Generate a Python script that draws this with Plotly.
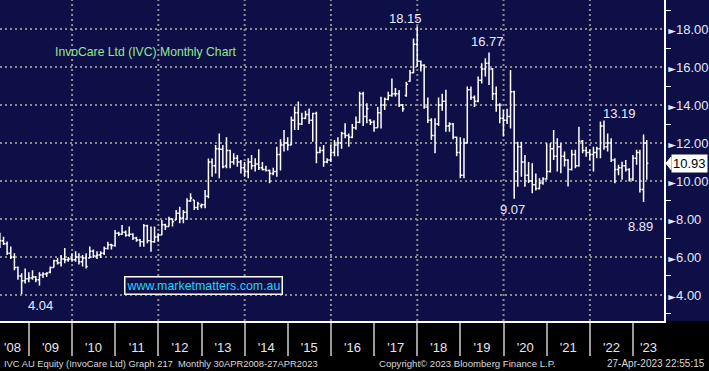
import pandas as pd
import plotly.graph_objects as go

# ---------------- data (monthly OHLC, Apr-2008 .. Apr-2023) ----------------
dates = list(pd.date_range('2008-04-30', periods=180, freq=pd.offsets.MonthEnd())) + [pd.Timestamp('2023-04-27')]

opens = [
    7.00, 6.85, 6.70, 6.20, 6.00, 5.45, 5.00, 4.75, 4.85,
    4.90, 4.95, 4.80, 5.05, 5.10, 5.20, 5.45, 5.80, 5.70, 5.90, 5.85, 5.90,
    5.85, 6.00, 5.75, 5.95, 5.95, 6.30, 6.05, 6.10, 6.20, 6.45, 6.65, 6.60,
    7.25, 7.20, 7.30, 7.15, 7.20, 7.00, 6.90, 6.80, 7.65, 6.85, 6.80, 7.05,
    7.16, 7.70, 7.60, 8.00, 7.95, 8.30, 8.05, 8.35, 8.95, 9.00, 8.60, 8.70,
    8.75, 9.20, 11.00, 10.80, 11.70, 11.67, 10.80, 11.60, 11.00, 11.20, 11.00, 10.70,
    10.50, 11.00, 10.80, 10.90, 10.70, 10.60, 10.55, 10.40, 10.50, 11.40, 11.90, 12.00,
    11.90, 13.20, 13.60, 13.00, 13.30, 13.50, 13.20, 13.55, 11.50, 11.60, 11.00, 11.10,
    11.50, 11.90, 12.00, 12.50, 12.40, 12.30, 12.80, 13.10, 14.60, 13.40, 13.20, 13.10,
    12.80, 13.60, 14.00, 14.30, 14.50, 14.60, 14.60, 14.00, 14.50, 15.25, 15.70, 17.20,
    16.30, 16.10, 13.90, 13.20, 12.40, 13.00, 14.00, 14.20, 12.90, 13.00, 12.30, 11.50,
    10.30, 12.00, 14.80, 14.40, 14.20, 15.30, 15.90, 16.20, 15.90, 14.60, 14.00, 13.30,
    13.20, 13.40, 14.70, 10.50, 11.80, 11.00, 10.30, 10.00, 9.80, 9.60, 9.90, 10.10,
    10.50, 11.70, 11.30, 11.80, 11.30, 11.10, 10.60, 11.40, 10.80, 12.10, 11.60, 11.50,
    11.40, 11.50, 11.70, 12.90, 11.80, 12.00, 11.10, 10.60, 10.70, 10.80, 10.60, 10.10,
    11.20, 11.50, 9.55, 12.00,
]
highs = [
    7.27, 7.07, 6.81, 6.55, 6.20, 5.50, 5.15, 5.40, 5.20,
    5.30, 5.00, 5.20, 5.20, 5.20, 5.50, 5.85, 5.95, 6.10, 6.47, 6.00, 6.20,
    6.30, 6.20, 6.10, 6.20, 6.55, 6.40, 6.30, 6.30, 6.55, 6.80, 6.70, 7.42,
    7.33, 7.68, 7.40, 7.60, 7.25, 7.07, 6.95, 7.74, 7.70, 7.60, 7.60, 7.25,
    7.95, 7.75, 8.12, 8.03, 8.47, 8.65, 8.47, 9.09, 9.35, 9.00, 8.91, 8.82,
    9.53, 11.19, 11.19, 11.90, 12.50, 11.90, 12.30, 11.65, 11.46, 11.37, 11.11, 11.00,
    11.20, 11.37, 11.20, 11.67, 11.00, 10.80, 10.60, 10.70, 11.81, 12.20, 12.69, 12.30,
    13.39, 13.92, 14.18, 13.60, 13.70, 13.82, 13.60, 13.65, 11.80, 11.90, 11.20, 11.90,
    12.16, 12.30, 12.60, 13.04, 12.50, 13.00, 13.40, 14.70, 14.70, 14.10, 13.25, 13.20,
    13.90, 14.44, 14.40, 14.70, 15.40, 14.90, 14.79, 14.05, 15.23, 15.85, 17.50, 18.15,
    16.35, 16.15, 14.40, 13.30, 13.30, 14.40, 14.60, 14.80, 13.10, 13.05, 12.35, 12.30,
    12.25, 14.97, 14.97, 14.50, 15.50, 16.20, 16.46, 16.77, 15.95, 14.97, 14.10, 13.74,
    13.80, 15.85, 14.75, 12.07, 12.07, 11.37, 11.00, 10.93, 10.40, 10.14, 10.20, 11.99,
    11.99, 12.69, 12.25, 11.99, 11.55, 11.15, 11.64, 11.64, 12.86, 12.16, 11.81, 11.64,
    11.81, 11.81, 13.13, 13.19, 12.50, 12.25, 11.20, 10.85, 11.02, 11.11, 10.67, 11.37,
    11.64, 11.64, 12.45, 12.16,
]
lows = [
    6.47, 6.63, 6.10, 5.90, 5.30, 4.80, 4.04, 4.60, 4.67,
    4.80, 4.67, 4.50, 4.90, 4.95, 5.15, 5.45, 5.60, 5.50, 5.67, 5.75, 5.75,
    5.75, 5.60, 5.50, 5.40, 5.93, 5.95, 5.90, 5.95, 6.10, 6.40, 6.40, 6.54,
    7.10, 7.16, 7.07, 7.07, 6.90, 6.80, 6.54, 6.54, 6.72, 6.28, 6.75, 6.80,
    7.16, 7.42, 7.60, 7.60, 7.95, 7.77, 7.77, 7.95, 8.91, 8.47, 8.47, 8.56,
    8.56, 9.09, 10.23, 10.40, 10.15, 10.67, 10.67, 10.67, 10.85, 10.75, 10.40, 10.23,
    10.15, 10.60, 10.50, 10.58, 10.55, 10.50, 9.88, 10.30, 10.23, 10.55, 11.55, 11.60,
    11.90, 12.69, 12.69, 12.95, 13.25, 13.00, 12.07, 10.93, 11.46, 10.75, 10.93, 11.00,
    11.30, 11.30, 11.70, 12.25, 11.80, 12.25, 12.70, 13.04, 12.90, 13.04, 12.95, 12.60,
    12.80, 12.77, 13.74, 14.25, 14.44, 14.45, 13.90, 13.65, 14.44, 15.23, 15.67, 16.00,
    15.76, 13.80, 13.05, 12.16, 11.46, 12.90, 13.70, 12.60, 12.60, 12.20, 11.30, 10.15,
    10.14, 11.98, 14.27, 13.90, 14.15, 15.14, 15.50, 15.06, 14.27, 13.65, 13.04, 12.34,
    13.00, 12.77, 9.07, 9.70, 10.23, 9.70, 9.90, 9.35, 9.50, 9.55, 9.80, 10.06,
    10.45, 11.11, 10.50, 10.41, 10.76, 9.71, 10.55, 10.67, 10.75, 11.46, 11.28, 11.10,
    10.50, 11.20, 11.20, 11.64, 11.55, 11.00, 9.88, 10.30, 10.06, 10.50, 9.97, 10.00,
    10.85, 9.40, 8.89, 10.06,
]
closes = [
    6.85, 6.70, 6.20, 6.00, 5.45, 5.00, 4.75, 4.85, 4.90,
    4.95, 4.80, 5.05, 5.10, 5.15, 5.45, 5.80, 5.70, 5.90, 5.85, 5.90, 5.85,
    6.00, 5.75, 5.95, 5.50, 6.30, 6.05, 6.10, 6.20, 6.45, 6.65, 6.60, 7.25,
    7.20, 7.30, 7.15, 7.20, 7.00, 6.90, 6.80, 7.65, 6.85, 6.80, 7.05, 7.16,
    7.70, 7.60, 8.00, 7.85, 8.30, 8.05, 8.35, 8.95, 9.10, 8.60, 8.80, 8.75,
    9.20, 11.00, 10.80, 11.70, 11.67, 10.75, 11.60, 11.00, 11.20, 11.00, 10.70, 10.50,
    11.00, 10.80, 10.90, 10.70, 10.60, 10.55, 10.40, 10.50, 11.40, 11.90, 12.00, 11.90,
    13.20, 13.60, 13.00, 13.30, 13.50, 13.20, 13.55, 11.50, 11.60, 11.00, 11.10, 11.50,
    11.90, 12.00, 12.50, 12.40, 12.30, 12.80, 13.10, 14.60, 13.40, 13.80, 13.10, 12.80,
    13.60, 14.00, 14.30, 14.50, 14.60, 14.60, 14.00, 13.80, 15.10, 15.70, 17.20, 16.30,
    16.10, 13.90, 13.20, 12.40, 13.00, 14.00, 14.20, 12.90, 13.00, 12.30, 11.50, 10.30,
    12.00, 14.80, 14.40, 14.20, 15.30, 15.90, 16.20, 15.90, 14.60, 14.00, 13.30, 13.20,
    13.40, 14.70, 10.50, 11.80, 11.00, 10.30, 10.00, 9.80, 9.60, 9.90, 10.10, 10.50,
    11.70, 11.30, 11.80, 11.30, 11.10, 10.60, 11.40, 10.80, 12.10, 11.60, 11.50, 11.40,
    11.50, 11.70, 12.90, 11.80, 12.00, 11.10, 10.60, 10.70, 10.80, 10.60, 10.10, 11.20,
    11.50, 9.55, 12.00, 10.93,
]

y_ticks = [4, 6, 8, 10, 12, 14, 16, 18]
y_minor = [3, 5, 7, 9, 11, 13, 15, 17, 19]
year_labels = ["'08", "'09", "'10", "'11", "'12", "'13", "'14", "'15",
               "'16", "'17", "'18", "'19", "'20", "'21", "'22", "'23"]
year_label_dates = ['2008-08-15'] + [f'{y}-07-02' for y in range(2009, 2023)] + ['2023-05-12']
year_bounds = [f'{y}-01-01' for y in range(2009, 2024)]
grid_years = [f'{y}-01-01' for y in range(2010, 2023, 2)]

# extremes labelled on the chart: (text, date, value, anchor, xshift, yshift)
extremes = [
    ('4.04', '2008-10-31', 4.04, 'top', 19, -2),
    ('18.15', '2017-12-29', 18.15, 'bottom', -11, -2),
    ('16.77', '2019-08-30', 16.77, 'bottom', -1, 1),
    ('9.07', '2020-03-31', 9.07, 'top', -2, -1),
    ('13.19', '2022-04-29', 13.19, 'bottom', 16, -3),
    ('8.89', '2023-03-31', 8.89, 'top', -3, -15),
]

NAVY = '#0f0f48'
TXT = '#e6e6f2'
FONT = 'Liberation Sans, Arial, sans-serif'
W, H = 709, 371
ML, MR, MT, MB = 0, 45, 0, 50
PW, PH = W - ML - MR, H - MT - MB

fig = go.Figure()
fig.add_trace(go.Ohlc(
    x=dates, open=opens, high=highs, low=lows, close=closes,
    increasing=dict(line=dict(color='white', width=1.5)),
    decreasing=dict(line=dict(color='white', width=1.5)),
    tickwidth=0.5, showlegend=False, hoverinfo='skip'))

shapes = [dict(type='rect', xref='paper', yref='paper', x0=0, x1=1 + MR / PW, y0=0, y1=1,
               fillcolor=NAVY, line=dict(width=0), layer='below')]
for g in grid_years:
    shapes.append(dict(type='line', xref='x', yref='paper', x0=g, x1=g, y0=0, y1=1,
                       line=dict(color='#8c8c8c', width=2, dash='2px,3px'), layer='below'))
last = closes[-1]
shapes.append(dict(type='path', xref='paper', yref='y',
                   path=f'M 1.003,{last} L 1.0105,{last + 0.33} L 1.0105,{last - 0.33} Z',
                   fillcolor='white', line=dict(color='white', width=1)))

annotations = [
    dict(text='InvoCare Ltd (IVC) Monthly Chart', xref='paper', yref='paper',
         x=53 / PW, y=1 - 52 / PH, xanchor='left', yanchor='middle', showarrow=False,
         font=dict(family=FONT, size=12.2, color='#8fe88f')),
    dict(text='www.marketmatters.com.au', xref='paper', yref='paper',
         x=203 / PW, y=1 - 285.5 / PH, xanchor='center', yanchor='middle', showarrow=False,
         font=dict(family=FONT, size=12.4, color='#22d3f5'), bordercolor='white',
         borderwidth=1.5, borderpad=1, bgcolor=NAVY),
    dict(text=f'{last:.2f}', xref='paper', yref='y', x=1.0105, y=last,
         xanchor='left', yanchor='middle', showarrow=False,
         font=dict(family=FONT, size=13, color='black'), bgcolor='white', borderpad=1),
    dict(text='IVC AU Equity (InvoCare Ltd) Graph 217  Monthly 30APR2008-27APR2023',
         xref='paper', yref='paper', x=2 / PW, y=-42 / PH, xanchor='left', yanchor='middle',
         showarrow=False, font=dict(family=FONT, size=9.4, color='#d8d8d8')),
    dict(text='Copyright© 2023 Bloomberg Finance L.P.',
         xref='paper', yref='paper', x=377 / PW, y=-42 / PH, xanchor='left', yanchor='middle',
         showarrow=False, font=dict(family=FONT, size=9.6, color='#d8d8d8')),
    dict(text='27-Apr-2023 22:55:15',
         xref='paper', yref='paper', x=(W - 2) / PW, y=-42 / PH, xanchor='right', yanchor='middle',
         showarrow=False, font=dict(family=FONT, size=10, color='#d8d8d8')),
]
for txt, d, v, anc, xs, ys in extremes:
    annotations.append(dict(text=txt, x=d, y=v, xref='x', yref='y', showarrow=False,
                            xanchor='center', yanchor=anc, xshift=xs, yshift=ys,
                            font=dict(family=FONT, size=13, color='#e6ecff')))

fig.update_layout(
    width=W, height=H, autosize=False,
    margin=dict(l=ML, r=MR, t=MT, b=MB, pad=0),
    paper_bgcolor='black', plot_bgcolor='rgba(0,0,0,0)',
    shapes=shapes, annotations=annotations, showlegend=False,
    xaxis=dict(type='date', range=['2008-05-01', '2023-09-20'],
               rangeslider=dict(visible=False), showgrid=False, zeroline=False,
               showline=True, linecolor='white', linewidth=1.5,
               tickmode='array', tickvals=year_label_dates, ticktext=year_labels,
               ticks='', ticklabelstandoff=14,
               tickfont=dict(family=FONT, size=13, color=TXT),
               minor=dict(tickmode='array', tickvals=year_bounds, ticks='outside',
                          ticklen=33, tickwidth=1.5, tickcolor='#9a9a9a', showgrid=False)),
    yaxis=dict(side='right', range=[2.63, 19.53], zeroline=False,
               tickmode='array', tickvals=y_ticks,
               ticktext=[f'<span style="font-family:DejaVu Sans;font-size:10px">►</span>{v:.2f}' for v in y_ticks],
               ticks='', showgrid=True, gridcolor='#8c8c8c', gridwidth=2, griddash='2px,3px',
               showline=True, linecolor='white', linewidth=1.5,
               tickfont=dict(family=FONT, size=13, color=TXT),
               minor=dict(tickmode='array', tickvals=y_minor, ticks='outside', ticklen=5,
                          tickcolor='white', tickwidth=1, showgrid=False)),
)

fig.write_html('out.html')
